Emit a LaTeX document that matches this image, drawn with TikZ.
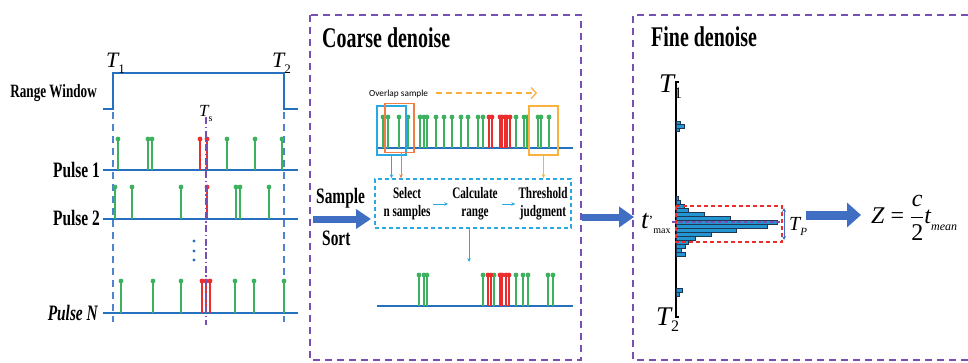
\documentclass[tikz,border=0pt]{standalone}
\usepackage{fontspec}
\setmainfont{Liberation Serif}
\newfontfamily\cnd{Liberation Serif}[FakeStretch=0.7]
\newfontfamily\calib{Carlito}
\usetikzlibrary{arrows.meta}
\definecolor{lineblue}{RGB}{38,112,192}
\definecolor{stemgreen}{RGB}{60,178,95}
\definecolor{stemred}{RGB}{235,45,45}
\definecolor{dashblue}{RGB}{80,130,210}
\definecolor{purpleC}{RGB}{120,80,180}
\definecolor{cyanC}{RGB}{40,170,225}
\definecolor{salmonC}{RGB}{240,125,70}
\definecolor{goldC}{RGB}{250,178,60}
\definecolor{arrowblue}{RGB}{64,110,195}
\definecolor{histfill}{RGB}{35,150,210}
\definecolor{histline}{RGB}{30,55,85}
\newcommand\mystem[4]{\draw[#1,line width=1.4pt] (#2,#3) -- (#2,#4); \fill[#1] (#2,#4) circle[radius=2.4pt];}
\begin{document}
\begin{tikzpicture}[x=1pt,y=-1pt,
  bline/.style={lineblue,line width=2pt},
  plabel/.style={font=\cnd\bfseries\fontsize{22}{24}\selectfont,inner sep=0pt,anchor=base east},
  title/.style={font=\cnd\bfseries\fontsize{28.5}{30}\selectfont,inner sep=0pt,anchor=base west},
  steptext/.style={font=\cnd\bfseries\fontsize{16}{18}\selectfont,inner sep=0pt,align=center},
  panel/.style={purpleC,line width=2pt,dash pattern=on 7pt off 5pt},
  bigarrow/.style={arrowblue,line width=7pt,-{Triangle[length=15pt,width=19pt]}},
  smallarrow/.style={line width=0.9pt,-{Stealth[length=4pt,width=3.5pt]}},
  histbar/.style={fill=histfill,draw=histline,line width=0.6pt},
  ovbox/.style={line width=1.3pt,minimum width=29pt,minimum height=49pt,inner sep=0pt}]
\useasboundingbox (0,0) rectangle (968,362);

% ---------------- panels ----------------
\draw[panel] (310,15) rectangle (581,360);
\draw[panel] (968,15) -- (633,15) -- (633,360) -- (968,360);
\node[title] (coarse) at (322,47) {Coarse denoise};
\node[title] (fine) at (651,46) {Fine denoise};

% ---------------- left panel ----------------
\node[plabel,font=\cnd\bfseries\fontsize{18.8}{20}\selectfont] (rw) at (97,97) {Range Window};
\draw[bline] (103,109) -- (113,109) -- (113,73) -- (284,73) -- (284,109) -- (298,109);
\node[anchor=base west,inner sep=0pt,font=\fontsize{22}{24}\selectfont] (t1a) at (106,67) {\itshape T\upshape\raisebox{-0.3em}{\fontsize{13}{13}\selectfont 1}};
\node[anchor=base west,inner sep=0pt,font=\fontsize{22}{24}\selectfont] (t2a) at (272,67) {\itshape T\upshape\raisebox{-0.3em}{\fontsize{13}{13}\selectfont 2}};
\node[anchor=base west,inner sep=0pt,font=\fontsize{17}{19}\selectfont] (ts) at (199,116) {\itshape T\upshape\raisebox{-0.3em}{\fontsize{10}{10}\selectfont s}};
\draw[dashblue,line width=1.6pt,dash pattern=on 7pt off 5pt] (113,112) -- (113,322);
\draw[dashblue,line width=1.6pt,dash pattern=on 7pt off 5pt] (284,112) -- (284,322);
% pulse 1
\draw[bline] (103,170) -- (298,170);
\foreach \x in {118,148,152,227,255,282} {\mystem{stemgreen}{\x}{170}{139}}
\foreach \x in {200,207} {\mystem{stemred}{\x}{170}{139}}
\node[plabel] (p1) at (100,177) {Pulse 1};
% pulse 2
\draw[bline] (103,219) -- (298,219);
\foreach \x in {115,132,181,236,240,269} {\mystem{stemgreen}{\x}{219}{187}}
\foreach \x in {207} {\mystem{stemred}{\x}{219}{187}}
\node[plabel] (p2) at (100,225) {Pulse 2};
% dots
\foreach \yy in {241,251,260} {\fill[lineblue] (194,\yy) circle[radius=1.7pt];}
% pulse N
\draw[bline] (103,313) -- (298,313);
\foreach \x in {121,153,181,235,254,284} {\mystem{stemgreen}{\x}{313}{281}}
\foreach \x in {202,206,210} {\mystem{stemred}{\x}{313}{281}}
\node[plabel] (pn) at (98,320) {\itshape Pulse N};
% Ts line
\draw[purpleC,line width=1.6pt,dash pattern=on 7pt off 2.5pt on 1.5pt off 2.5pt] (206,117) -- (206,325);

% ---------------- middle panel ----------------
\node[anchor=base west,inner sep=0pt,font=\cnd\bfseries\fontsize{22}{24}\selectfont] (sample) at (316,203) {Sample};
\node[anchor=base west,inner sep=0pt,font=\cnd\bfseries\fontsize{22}{24}\selectfont] (sort) at (322,245) {Sort};
\coordinate (a1s) at (313,219);
\coordinate (a1e) at (371,219);
\draw[bigarrow] (a1s) -- (a1e);

\node[anchor=base west,inner sep=0pt,font=\calib\fontsize{9.3}{10}\selectfont] (ovl) at (369,96) {Overlap sample};
\coordinate (ova) at (436,93);
\coordinate (ovb) at (537,93);
\draw[goldC,line width=1.3pt,dash pattern=on 6pt off 4pt,-{Straight Barb[length=5pt,width=11pt]}] (ova) -- (ovb);

\draw[bline] (377,148) -- (573,148);
\foreach \x in {383,388,399,408,420,424,427,436,444,452,461,468,478,483,516,524,527,538,541,549} {\mystem{stemgreen}{\x}{148}{117}}
\foreach \x in {489,492,500,502,505,507,510} {\mystem{stemred}{\x}{148}{117}}
\node[ovbox,draw=cyanC] (cbox) at (391.5,130.5) {};
\node[ovbox,draw=salmonC] (sbox) at (399.5,128) {};
\node[ovbox,draw=goldC] (gbox) at (543.5,130.5) {};

\node[draw=cyanC,line width=1.4pt,dash pattern=on 4pt off 3pt,minimum width=196pt,minimum height=49pt,inner sep=0pt] (stepbox) at (473,203.5) {};
\node[steptext] (sel) at (407,204) {Select\\n samples};
\node[steptext] (calc) at (475,204) {Calculate\\range};
\node[steptext] (thr) at (543,204) {Threshold\\judgment};
\draw[cyanC,smallarrow] ([xshift=2.5pt]sel.east) -- ([xshift=-4pt]calc.west);
\draw[cyanC,smallarrow] ([xshift=4pt]calc.east) -- ([xshift=-3pt]thr.west);

\draw[cyanC,smallarrow] (cbox.south) -- (cbox.south |- stepbox.north);
\draw[salmonC,smallarrow] ([xshift=1.5pt]sbox.south) -- ([xshift=1.5pt]sbox.south |- stepbox.north);
\draw[goldC,smallarrow] (gbox.south) -- (gbox.south |- stepbox.north);
\coordinate (dn) at (469,262);
\draw[cyanC,smallarrow] (stepbox.south -| dn) -- (dn);

\draw[bline] (377,306) -- (573,306);
\foreach \x in {419,424,427,483,494,516,523,528,548,553} {\mystem{stemgreen}{\x}{306}{275}}
\foreach \x in {488,491,500,502,506,509} {\mystem{stemred}{\x}{306}{275}}

\coordinate (a2s) at (582,217);
\coordinate (a2e) at (634,217);
\draw[bigarrow,-{Triangle[length=15pt,width=20pt]}] (a2s) -- (a2e);

% ---------------- right panel ----------------
\draw[black,line width=1.2pt] (679,82) -- (676,82) -- (676,317) -- (679,317);
\node[anchor=base west,inner sep=0pt,font=\fontsize{27}{29}\selectfont] (t1b) at (659,92) {\itshape T\upshape\raisebox{-0.25em}{\fontsize{16}{16}\selectfont 1}};
\node[anchor=base west,inner sep=0pt,font=\fontsize{27}{29}\selectfont] (t2b) at (656,325) {\itshape T\upshape\raisebox{-0.25em}{\fontsize{16}{16}\selectfont 2}};
\foreach \yy/\ll/\hh in {121/4/3,124/8/4,128/3/3,288/6/4,292/3/4,
  196/2/4,200/4/4,204/8/4,208/12/4,212/28/4,216/54/4,220/101/4,224/91/4,228/60/4,232/35/4,236/19/4,240/12/4,244/9/4,248/5/4,252/9/4}
  {\draw[histbar] (676,\yy) rectangle ++(\ll,\hh);}
\draw[stemred,line width=1.3pt,dash pattern=on 4pt off 3pt] (676,206) rectangle (782,242);
\draw[purpleC,line width=1.3pt,dash pattern=on 4pt off 2.5pt] (672,222) -- (782,222);
\coordinate (tpa) at (784,208);
\coordinate (tpb) at (784,240);
\draw[arrowblue,line width=0.9pt,{Stealth[length=4pt,width=4pt]}-{Stealth[length=4pt,width=4pt]}] (tpa) -- (tpb);
\node[anchor=base west,inner sep=0pt,font=\fontsize{20}{22}\selectfont] (tp) at (789,230) {\itshape T\raisebox{-0.25em}{\fontsize{11}{11}\selectfont P}};
\node[anchor=base west,inner sep=0pt,font=\fontsize{27}{29}\selectfont] (tmax) at (641,228) {\itshape t\upshape\raisebox{0.1em}{\fontsize{14}{14}\selectfont '}\raisebox{-0.2em}{\fontsize{10}{10}\selectfont max}};

\coordinate (a3s) at (806,215);
\coordinate (a3e) at (861,215);
\draw[arrowblue,line width=9pt,-{Triangle[length=14pt,width=24pt]}] (a3s) -- (a3e);
\node[anchor=base west,inner sep=0pt,font=\fontsize{24}{28}\selectfont] (zf) at (871,223) {\itshape Z\upshape\ = $\displaystyle\frac{\hbox{\itshape c}}{\hbox{2}}$\itshape t\raisebox{-0.3em}{\fontsize{12}{12}\selectfont mean}};
\end{tikzpicture}
\end{document}
